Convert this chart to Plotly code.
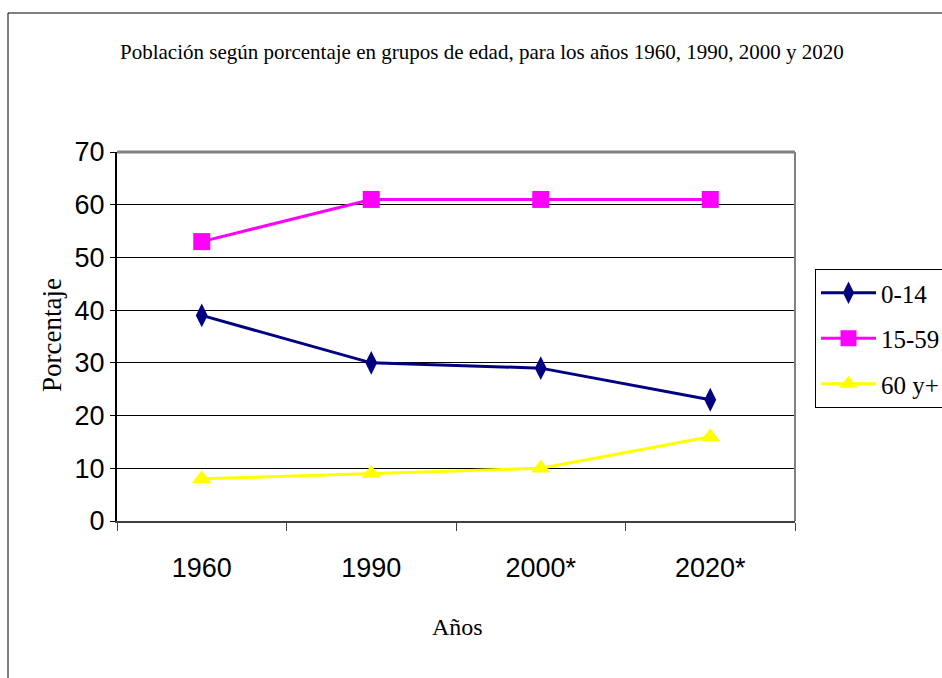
import plotly.graph_objects as go

# data
years = ["1960", "1990", "2000*", "2020*"]
edad_0_14 = [39, 30, 29, 23]
edad_15_59 = [53, 61, 61, 61]
edad_60_mas = [8, 9, 10, 16]

W, H = 942, 678
ML, MR, MT, MB = 117, 147, 152, 157
PW, PH = W - ML - MR, H - MT - MB

def px2x(p):
    return (p - ML) / PW

def px2y(p):
    return (H - MB - p) / PH

serif = "Liberation Serif, Times New Roman, serif"
sans = "Liberation Sans Narrow, Liberation Sans, Arial, sans-serif"

fig = go.Figure()
fig.add_trace(go.Scatter(x=years, y=edad_0_14, name="0-14", mode="lines+markers",
                         legendgroup="a",
                         line=dict(color="#000080", width=3),
                         marker=dict(symbol="diamond-tall", size=17, color="#000080")))
fig.add_trace(go.Scatter(x=years, y=edad_15_59, name="15-59", mode="lines+markers",
                         legendgroup="b",
                         line=dict(color="#FF00FF", width=3),
                         marker=dict(symbol="square", size=17, color="#FF00FF")))
fig.add_trace(go.Scatter(x=years, y=edad_60_mas, name="60 y+", mode="lines+markers",
                         legendgroup="c",
                         line=dict(color="#FFFF00", width=3),
                         marker=dict(symbol="triangle-up", size=17, color="#FFFF00")))

fig.update_layout(
    width=W, height=H,
    margin=dict(l=ML, r=MR, t=MT, b=MB, autoexpand=False),
    paper_bgcolor="white", plot_bgcolor="white",
    showlegend=True,
    legend=dict(x=px2x(815), y=px2y(269), xanchor="left", yanchor="top",
                bordercolor="black", borderwidth=1, bgcolor="white",
                font=dict(family=serif, size=25, color="black"),
                itemwidth=55, tracegroupgap=10),
    xaxis=dict(type="category", range=[-0.5, 3.5], automargin=False,
               showline=True, linecolor="#404040", linewidth=2,
               ticks="outside", tickson="boundaries", ticklen=8, tickcolor="#404040",
               showgrid=False, ticklabelstandoff=22,
               tickfont=dict(family=sans, size=27, color="black")),
    yaxis=dict(range=[0, 70], dtick=10, automargin=False,
               showline=True, linecolor="black", linewidth=2,
               ticks="outside", ticklen=5, tickcolor="black",
               showgrid=True, gridcolor="black", gridwidth=1, zeroline=False,
               tickfont=dict(family=sans, size=27, color="black")),
)

# top and right border of the plot area, grey
fig.add_shape(type="line", xref="x domain", yref="y domain", x0=0, x1=1, y0=1, y1=1,
              line=dict(color="#808080", width=3))
fig.add_shape(type="line", xref="x domain", yref="y domain", x0=1, x1=1, y0=0, y1=1,
              line=dict(color="#808080", width=2))
# outer chart frame
fig.add_shape(type="rect", xref="paper", yref="paper",
              x0=px2x(8), x1=px2x(1100), y0=px2y(800), y1=px2y(13),
              line=dict(color="black", width=1))

fig.add_annotation(text="Población según porcentaje en grupos de edad, para los años 1960, 1990, 2000 y 2020",
                   xref="paper", yref="paper", x=px2x(482), y=px2y(52),
                   showarrow=False, xanchor="center", yanchor="middle",
                   font=dict(family=serif, size=21, color="black"))
fig.add_annotation(text="Porcentaje", textangle=-90,
                   xref="paper", yref="paper", x=px2x(52), y=px2y(335),
                   showarrow=False, xanchor="center", yanchor="middle",
                   font=dict(family=serif, size=27, color="black"))
fig.add_annotation(text="Años",
                   xref="paper", yref="paper", x=px2x(457), y=px2y(627),
                   showarrow=False, xanchor="center", yanchor="middle",
                   font=dict(family=serif, size=24, color="black"))

# the page body has a default 8px margin; drop it so the figure sits at 0,0
fig.write_html("out.html", config={"displayModeBar": False},
               post_script="document.body.style.margin='0';")
